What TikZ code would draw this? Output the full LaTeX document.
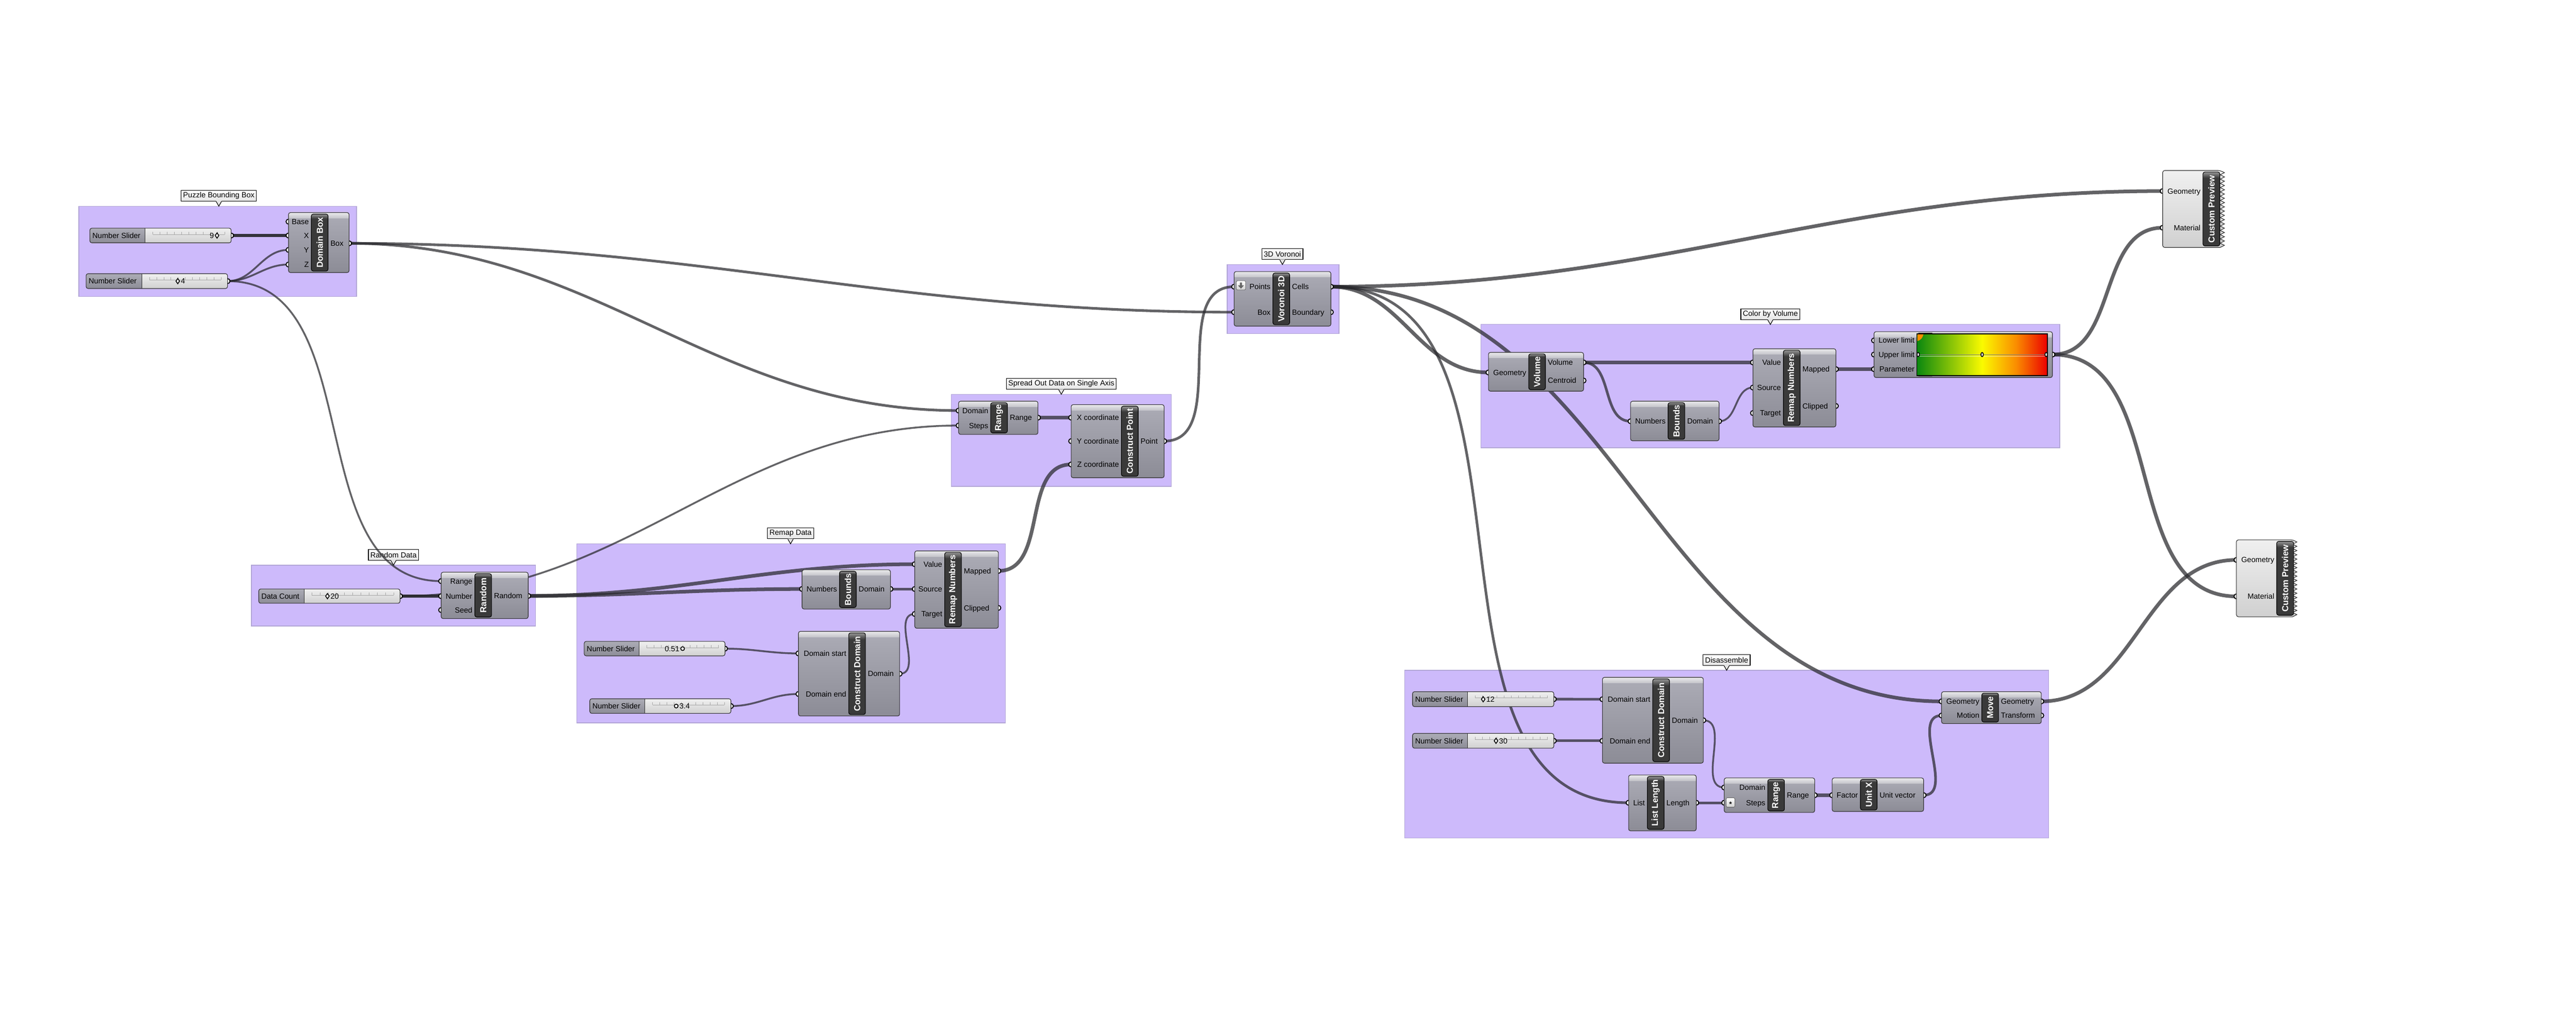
\documentclass[tikz,border=0pt]{standalone}
\usepackage{fontspec}
\setmainfont{Liberation Sans}
\usetikzlibrary{fit,calc}
\pgfdeclarelayer{groups}
\pgfdeclarelayer{wires}
\pgfdeclarelayer{ports}
\pgfsetlayers{groups,wires,ports,main}
\definecolor{ghgroup}{RGB}{205,186,251}
\definecolor{ghgroupedge}{RGB}{178,166,214}
\definecolor{ghtop}{RGB}{172,172,182}
\definecolor{ghbot}{RGB}{140,140,150}
\definecolor{ghheadtop}{RGB}{234,234,236}
\definecolor{ghheadbot}{RGB}{196,196,202}
\definecolor{ghbar}{RGB}{58,58,58}
\definecolor{ghbarhi}{RGB}{150,150,150}
\definecolor{ghedge}{RGB}{50,50,50}
\definecolor{ghwire}{RGB}{40,40,44}
\definecolor{ghlight}{RGB}{240,240,240}
\definecolor{ghlightbot}{RGB}{208,208,208}
\definecolor{ghlabel}{RGB}{228,228,228}
\definecolor{ghgreen}{RGB}{10,135,15}
\definecolor{ghyellow}{RGB}{250,250,0}
\definecolor{ghorange}{RGB}{250,140,0}
\definecolor{ghred}{RGB}{235,0,0}
\pgfdeclarehorizontalshading{ghgrad}{100bp}{color(0bp)=(ghgreen); color(25bp)=(ghgreen); color(50bp)=(ghyellow); color(63bp)=(ghorange); color(75bp)=(ghred); color(100bp)=(ghred)}
\pgfdeclareverticalshading{ghbarshade}{100bp}{color(0bp)=(ghbar); color(25bp)=(ghbar); color(71bp)=(ghbar); color(75bp)=(ghbarhi); color(100bp)=(ghbarhi)}
\begin{document}
\begin{tikzpicture}[x=.25mm,y=-.25mm,
  cbody/.style={inner sep=0,outer sep=0,rounded corners=.3mm,top color=ghtop,bottom color=ghbot},
  chead/.style={top color=ghheadtop,bottom color=ghheadbot},
  cedge/.style={draw=ghedge,line width=.0875mm,rounded corners=.3mm},
  cbar/.style={inner sep=0,outer sep=0,rounded corners=.3mm,draw=black,line width=.0875mm,shade,shading=ghbarshade},
  bartext/.style={text=white,font=\bfseries\fontsize{3.75}{3.75}\selectfont,rotate=90,inner sep=0},
  plabel/.style={font=\fontsize{3.25}{3.25}\selectfont,inner sep=0,text height=2.5pt,text depth=.17pt},
  cport/.style={fill=white,draw=black,line width=.14mm},
  cknob/.style={fill=white,draw=black,line width=.125mm},
  crail/.style={draw=black!35,line width=.065mm},
  svalue/.style={inner sep=0,outer sep=0,rounded corners=.3mm,top color=ghlight,bottom color=ghlightbot},
  sname/.style={top color=ghtop,bottom color=ghbot},
  pbody/.style={top color=ghlight,bottom color=ghlightbot,draw=ghedge,line width=.0875mm},
  cicon/.style={inner sep=0,rounded corners=.15mm,draw=black!60,line width=.065mm,top color=white,bottom color=black!18},
  grp/.style={inner sep=0,outer sep=0,fill=ghgroup,draw=ghgroupedge,line width=.1mm},
  glabel/.style={draw=black,line width=.0875mm,top color=white,bottom color=ghlabel,minimum height=1.65mm,inner xsep=.3mm,inner ysep=0,font=\fontsize{3.25}{3.25}\selectfont},
  wire/.style={draw=ghwire,draw opacity=.72,line width=.275mm,out=0,in=180},
  mwire/.style={wire,line width=.4mm},
  twire/.style={wire,line width=.55mm},
  dwire/.style={wire,draw opacity=.92,line width=.425mm}]
\def\grp[#1](#2,#3)(#4,#5)[#6]#7{%
  \begin{pgfonlayer}{groups}
  \node[grp,fit={(#2,#3) (#4,#5)}] (#1) {};
  \node[glabel] (#1-lbl) at (#6,#3-6.3) {#7};
  \fill[ghlabel] ($(#1-lbl.south)+(-1.6,-.3)$) -- (#6,#3) -- ($(#1-lbl.south)+(1.6,-.3)$) -- cycle;
  \draw[line width=.0875mm] ($(#1-lbl.south)+(-1.6,0)$) -- (#6,#3) -- ($(#1-lbl.south)+(1.6,0)$);
  \end{pgfonlayer}}
\def\comp[#1](#2,#3)(#4,#5)[#6]#7{%
  \def\compN{#1}\def\compL{#2}\def\compR{#4}\def\barL{#6}%
  \pgfmathsetmacro\barR{#6+10.2}%
  \node[cbody,fit={(#2,#3) (#4,#5)}] (#1) {};
  \begin{scope}
    \clip[rounded corners=.3mm] (#2,#3) rectangle (#4,#5);
    \fill[chead] (#2,#3) rectangle (#4,#3+3.4);
  \end{scope}
  \draw[cedge] (#2,#3) rectangle (#4,#5);
  \node[cbar,fit={(#6,#3+.9) (\barR,#5-.9)}] (#1-bar) {};
  \node[bartext] (#1-name) at (#1-bar.center) {#7};}
\def\pin[#1](#2)#3{%
  \coordinate (\compN-#1) at (\compL,#2);
  \begin{pgfonlayer}{ports}\draw[cport] (\compN-#1) circle (1.5);\end{pgfonlayer}
  \node[plabel,anchor=east] (\compN-#1-l) at (\barL-1.2,#2) {#3};}
\def\pout[#1](#2)#3{%
  \coordinate (\compN-#1) at (\compR,#2);
  \begin{pgfonlayer}{ports}\draw[cport] (\compN-#1) circle (1.5);\end{pgfonlayer}
  \node[plabel,anchor=west] (\compN-#1-l) at (\barR+1.2,#2) {#3};}
\def\sld[#1](#2,#3)(#4,#5)[#6]#7{%
  \node[svalue,fit={(#2,#3) (#4,#5)}] (#1) {};
  \begin{scope}
    \clip[rounded corners=.3mm] (#2,#3) rectangle (#4,#5);
    \fill[sname] (#2,#3) rectangle (#6,#5);
  \end{scope}
  \draw[ghedge,line width=.075mm] (#6,#3) -- (#6,#5);
  \draw[cedge] (#2,#3) rectangle (#4,#5);
  \node[plabel,anchor=west] (#1-name) at (#2+1.3,{(#3+#5)/2}) {#7};
  \draw[crail] (#6+4.7,#3+3.8) -- (#4-3.9,#3+3.8);
  \foreach \k in {0,...,10}
    \draw[crail] ($(#6+4.7,#3+3.8)!\k/10!(#4-3.9,#3+3.8)$) -- ++(0,-1.6);
  \coordinate (#1-o) at (#4,{(#3+#5)/2});
  \begin{pgfonlayer}{ports}\draw[cport] (#1-o) circle (1.5);\end{pgfonlayer}}
\def\prv[#1](#2,#3)(#4,#5)[#6]{%
  \def\compN{#1}\def\compL{#2}\def\barL{#6}%
  \pgfmathsetmacro\zs{(#5-#3)/36}%
  \node[inner sep=0,outer sep=0,fit={(#2,#3) (#4,#5)}] (#1) {};
  \filldraw[pbody] (#4-2.6,#3) \foreach \k in {1,...,35}{ -- ({#4-2.6+2.6*mod(\k,2)},{#3+\k*\zs}) } -- (#4-2.6,#5) [rounded corners=.3mm] -- (#2,#5) -- (#2,#3) -- cycle;
  \node[cbar,fit={(#6,#3+.9) (#6+10.3,#5-.9)}] (#1-bar) {};
  \node[bartext] (#1-name) at (#1-bar.center) {Custom Preview};}
\def\knobD(#1,#2){\draw[cknob] (#1,#2-1.6) -- (#1+1.1,#2) -- (#1,#2+1.6) -- (#1-1.1,#2) -- cycle;}
\def\knobO(#1,#2){\draw[cknob] (#1,#2) circle (1.15);}
\useasboundingbox (0,0) rectangle (1568,628);
\begin{pgfonlayer}{groups}\fill[white] (0,0) rectangle (1568,628);\end{pgfonlayer}
\grp[gbox](48,125.5)(217,180.5)[133.2]{Puzzle Bounding Box}
\grp[grnd](153,344)(326,381)[239.5]{Random Data}
\grp[gmap](351,331)(612,440)[481.2]{Remap Data}
\grp[gspr](579,240)(713,296)[646]{Spread Out Data on Single Axis}
\grp[gvor](747,161)(815,203)[780.6]{3D Voronoi}
\grp[gcol](901.4,197.5)(1253.8,272.5)[1077.6]{Color by Volume}
\grp[gdis](855,408)(1247,510)[1051]{Disassemble}
\sld[sa](54.7,138.9)(140.7,147.8)[88.3]{Number Slider}
\knobD(132.1,143.35)
\node[plabel,anchor=east] (sa-val) at (130.5,143.35) {9};
\sld[sb](52.4,166.6)(138.5,175.6)[86.3]{Number Slider}
\knobD(108.2,171.1)
\node[plabel,anchor=west] (sb-val) at (109.8,171.1) {4};
\comp[dbox](175.6,129.4)(212.5,165.9)[189.5]{Domain Box}
\pin[base](134.9){Base} \pin[x](143.35){X} \pin[y](152.1){Y} \pin[z](161){Z}
\pout[box](148.1){Box}
\sld[dc](157.5,358.5)(243.5,367.2)[185.1]{Data Count}
\knobD(199.3,362.85)
\node[plabel,anchor=west] (dc-val) at (200.9,362.85) {20};
\comp[rnd](268.5,348.3)(321.5,376.5)[289]{Random}
\pin[range](353.7){Range} \pin[num](362.85){Number} \pin[seed](371.3){Seed}
\pout[rnd](362.7){Random}
\comp[bnd](488.2,346.8)(542,370.7)[511]{Bounds}
\pin[num](358.5){Numbers} \pout[dom](358.5){Domain}
\comp[rmp](556.8,335.3)(607.7,382.4)[575]{Remap Numbers}
\pin[val](343.4){Value} \pin[src](358.5){Source} \pin[tgt](373.7){Target}
\pout[map](347.5){Mapped} \pout[clp](370){Clipped}
\sld[sc](355.6,390.4)(441.3,399.2)[388.9]{Number Slider}
\knobO(415.5,394.8)
\node[plabel,anchor=east] (sc-val) at (413.8,394.8) {0.51};
\sld[sd](359,425.3)(444.9,434.2)[392.6]{Number Slider}
\knobO(411.6,429.75)
\node[plabel,anchor=west] (sd-val) at (413.3,429.75) {3.4};
\comp[cdm](486,384.3)(547.6,435.8)[516.6]{Construct Domain}
\pin[st](397.7){Domain start} \pin[en](422.4){Domain end} \pout[dom](410.1){Domain}
\comp[rng](583.5,244.2)(631.8,264.4)[603]{Range}
\pin[dom](249.9){Domain} \pin[stp](259){Steps} \pout[rng](254.2){Range}
\comp[cpt](652,246.3)(708.6,290.8)[682.6]{Construct Point}
\pin[x](254.2){X coordinate} \pin[y](268.5){Y coordinate} \pin[z](282.7){Z coordinate}
\pout[pt](268.5){Point}
\comp[vor](751.2,165.3)(810.1,198.5)[774.8]{Voronoi 3D}
\pin[pts](174.5){Points} \pin[box](190){Box}
\pout[cel](174.5){Cells} \pout[bnd](190){Boundary}
\node[cicon,fit={(752.5,170.9) (758.2,176.5)}] (vor-ic) {};
\fill[black!60] (754.7,172) -- (756,172) -- (756,173.7) -- (757.2,173.7) -- (755.35,175.7) -- (753.5,173.7) -- (754.7,173.7) -- cycle;
\comp[vol](906,214.5)(963.9,238.1)[930.5]{Volume}
\pin[geo](226.7){Geometry} \pout[vol](220.6){Volume} \pout[cen](231.6){Centroid}
\comp[bnd2](992.5,244.2)(1046.4,268.3)[1015.3]{Bounds}
\pin[num](256.4){Numbers} \pout[dom](256.4){Domain}
\comp[rmp2](1067,212.3)(1117.5,259.9)[1085.5]{Remap Numbers}
\pin[val](220.6){Value} \pin[src](235.9){Source} \pin[tgt](251.4){Target}
\pout[map](224.7){Mapped} \pout[clp](247.1){Clipped}
\comp[grd](1140.7,201.9)(1249.3,229.8)[1166.8]{}
\pin[lo](207.2){Lower limit} \pin[up](215.8){Upper limit} \pin[par](224.7){Parameter}
\pout[o](215.8){}
\node[inner sep=0,outer sep=0,draw=black,line width=.125mm,shade,shading=ghgrad,fit={(1166.8,203.2) (1246.3,228.7)}] (grd-ramp) {};
\draw[black!50,line width=.125mm] (grd-ramp.west) -- (grd-ramp.east);
\draw[white,line width=.0875mm,opacity=.6] ($(grd-ramp.west)+(0,.9)$) -- ($(grd-ramp.east)+(0,.9)$);
\foreach \gx in {1167.6,1206.5,1245.5} \draw[cknob] (\gx,215.8) ellipse (.75 and 1.25);
\fill[ghorange] (1167.1,203.5) -- (1170.8,203.5) .. controls (1170.3,205.6) and (1169.2,207) .. (1167.1,207.6) -- cycle;
\sld[se](859.8,421)(945.8,430.1)[893.4]{Number Slider}
\knobD(902.8,425.6)
\node[plabel,anchor=west] (se-val) at (904.4,425.6) {12};
\sld[sf](859.8,446.4)(945.8,455.4)[893.4]{Number Slider}
\knobD(910.6,450.9)
\node[plabel,anchor=west] (sf-val) at (912.2,450.9) {30};
\comp[cdm2](975.4,412.3)(1036.8,464.5)[1006]{Construct Domain}
\pin[st](425.6){Domain start} \pin[en](450.9){Domain end} \pout[dom](438.4){Domain}
\comp[len](991.3,471.7)(1032.5,505.7)[1002.7]{List Length}
\pin[lst](488.6){List} \pout[len](488.6){Length}
\comp[rng2](1049.5,473.5)(1104.6,494.5)[1076]{Range}
\pin[dom](479.3){Domain} \pin[stp](488.6){Steps} \pout[rng](484){Range}
\node[cicon,fit={(1050.7,485.6) (1056,491.3)}] (rng2-ic) {};
\node[inner sep=0,font=\bfseries\fontsize{3}{3}\selectfont] (rng2-ast) at ($(rng2-ic.center)+(0,1)$) {*};
\comp[ux](1115.2,473.5)(1170.9,493.9)[1132.4]{Unit X}
\pin[fac](484){Factor} \pout[vec](484){Unit vector}
\comp[mov](1181.8,421)(1242.5,440.4)[1206.3]{Move}
\pin[gin](426.9){Geometry} \pin[mot](435.5){Motion}
\pout[gout](426.9){Geometry} \pout[xf](435.5){Transform}
\prv[cpa](1316.4,103.8)(1354,150.6)[1340.9]
\pin[geo](116.3){Geometry} \pin[mat](138.6){Material}
\prv[cpb](1361.3,328.6)(1398.1,375.4)[1385.8]
\pin[geo](340.8){Geometry} \pin[mat](363){Material}
\begin{pgfonlayer}{wires}
\draw[dwire] (sa-o) to (dbox-x);
\draw[wire] (sb-o) to (dbox-y);
\draw[wire] (sb-o) to (dbox-z);
\draw[wire] (sb-o) to (rnd-range);
\draw[mwire] (dbox-box) to (vor-box);
\draw[mwire] (dbox-box) to (rng-dom);
\draw[dwire] (dc-o) to (rnd-num);
\draw[wire] (dc-o) to (rng-stp);
\draw[twire] (rnd-rnd) to (rmp-val);
\draw[twire] (rnd-rnd) to (bnd-num);
\draw[mwire] (bnd-dom) to (rmp-src);
\draw[wire] (sc-o) to (cdm-st);
\draw[wire] (sd-o) to (cdm-en);
\draw[wire] (cdm-dom) to (rmp-tgt);
\draw[twire] (rmp-map) to (cpt-z);
\draw[twire] (rng-rng) to (cpt-x);
\draw[mwire] (cpt-pt) to (vor-pts);
\draw[twire] (vor-cel) to (vol-geo);
\draw[twire] (vor-cel) to (cpa-geo);
\draw[twire] (vor-cel) to (mov-gin);
\draw[mwire] (vor-cel) to (len-lst);
\draw[twire] (vol-vol) to (rmp2-val);
\draw[mwire] (vol-vol) to (bnd2-num);
\draw[wire] (bnd2-dom) to (rmp2-src);
\draw[twire] (rmp2-map) to (grd-par);
\draw[twire] (grd-o) to (cpa-mat);
\draw[twire] (grd-o) to (cpb-mat);
\draw[mwire] (se-o) to (cdm2-st);
\draw[mwire] (sf-o) to (cdm2-en);
\draw[wire] (cdm2-dom) to (rng2-dom);
\draw[mwire] (len-len) to (rng2-stp);
\draw[twire] (rng2-rng) to (ux-fac);
\draw[mwire] (ux-vec) to (mov-mot);
\draw[twire] (mov-gout) to (cpb-geo);
\end{pgfonlayer}
\end{tikzpicture}
\end{document}
